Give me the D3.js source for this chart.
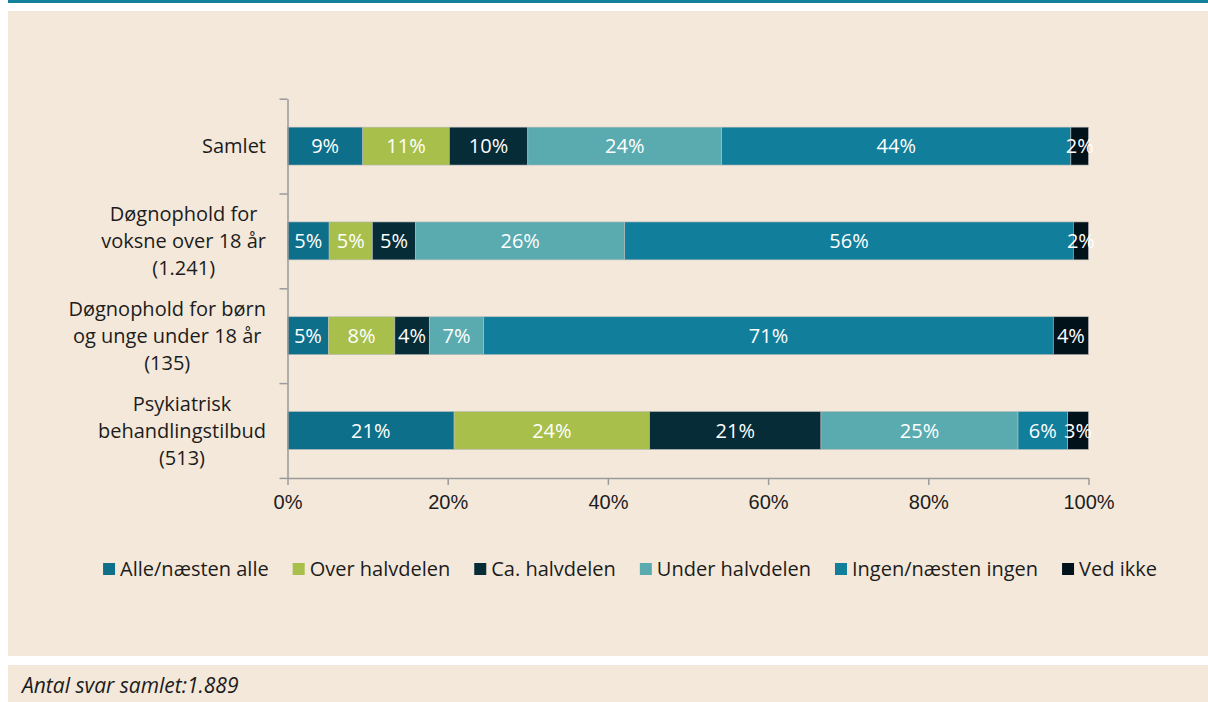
<!DOCTYPE html>
<html>
<head>
<meta charset="utf-8">
<script src="https://cdn.jsdelivr.net/npm/d3@7/dist/d3.min.js"></script>
<style>
  body { margin: 0; background: #fff; }
  svg { display: block; font-family: "Open Sans", "Noto Sans", sans-serif; }
</style>
</head>
<body>
<svg id="chart" width="1208" height="702"></svg>
<script>
// kategorier (linjer i hver etiket)
const CATEGORIES = [
  ["Samlet"],
  ["Døgnophold for", "voksne over 18 år", "(1.241)"],
  ["Døgnophold for børn", "og unge under 18 år", "(135)"],
  ["Psykiatrisk", "behandlingstilbud", "(513)"],
];

const SERIES = ["Alle/næsten alle", "Over halvdelen", "Ca. halvdelen", "Under halvdelen", "Ingen/næsten ingen", "Ved ikke"];
const SERIES_COLORS = ["#0e6f8a", "#a8bf4c", "#062c38", "#5aabb0", "#117e9b", "#02121a"];

// procent pr. serie, i samme rækkefølge som CATEGORIES
const alleNaestenAlle = [9.4, 5.2, 5.1, 20.8];
const overHalvdelen = [10.8, 5.4, 8.3, 24.4];
const caHalvdelen = [9.8, 5.4, 4.3, 21.4];
const underHalvdelen = [24.2, 26.1, 6.8, 24.6];
const ingenNaestenIngen = [43.6, 56.0, 71.1, 6.2];
const vedIkke = [2.2, 1.9, 4.4, 2.6];

const X_TICKS = [0, 20, 40, 60, 80, 100];
const FOOTNOTE = "Antal svar samlet:1.889";

const seriesValues = [alleNaestenAlle, overHalvdelen, caHalvdelen, underHalvdelen, ingenNaestenIngen, vedIkke];
const table = CATEGORIES.map((c, i) => {
  const row = { idx: i };
  SERIES.forEach((s, k) => (row[s] = seriesValues[k][i]));
  return row;
});

const svg = d3.select("#chart");
const AXIS = "#9a9a9a";
const TEXT = "#1c1c1c";
const FS = 20;

// baggrund
svg.append("rect").attr("x", 8).attr("y", 0).attr("width", 1200).attr("height", 3).attr("fill", "#13809c");
svg.append("rect").attr("x", 8).attr("y", 11).attr("width", 1200).attr("height", 645).attr("fill", "#f4e8da");
svg.append("rect").attr("x", 8).attr("y", 665).attr("width", 1200).attr("height", 37).attr("fill", "#f4e8da");

const x = d3.scaleLinear().domain([0, 100]).range([287.5, 1088.5]);
const y = d3.scaleBand().domain(d3.range(CATEGORIES.length)).range([98.7, 477.9]).paddingInner(0.6).paddingOuter(0.3);
const yEdges = d3.scaleLinear().domain([0, CATEGORIES.length]).range([98.7, 477.9]);

const stacked = d3.stack().keys(SERIES)(table);

const gBars = svg.append("g");
stacked.forEach((layer, k) => {
  const g = gBars.append("g");
  g.selectAll("rect")
    .data(layer)
    .join("rect")
    .attr("x", (d) => x(d[0]))
    .attr("y", (d) => y(d.data.idx))
    .attr("width", (d) => x(d[1]) - x(d[0]))
    .attr("height", y.bandwidth())
    .attr("fill", SERIES_COLORS[k])
    .attr("stroke", "#b9bcbc")
    .attr("stroke-width", 0.6);
  g.selectAll("text")
    .data(layer)
    .join("text")
    .attr("x", (d) => (x(d[0]) + x(d[1])) / 2)
    .attr("y", (d) => y(d.data.idx) + y.bandwidth() / 2)
    .attr("dy", "0.35em")
    .attr("text-anchor", "middle")
    .attr("fill", "#fff")
    .attr("font-size", FS)
    .text((d) => Math.round(d[1] - d[0]) + "%");
});

// y-akse med streger mellem kategorierne
svg.append("g")
  .attr("transform", `translate(${x(0)},0)`)
  .call(d3.axisLeft(yEdges).tickValues(d3.range(CATEGORIES.length + 1)).tickFormat("").tickSize(8).tickSizeOuter(0))
  .call((g) => g.selectAll("line,path").attr("stroke", AXIS).attr("stroke-width", 1.5));

// x-akse
svg.append("g")
  .attr("transform", `translate(0,${yEdges(CATEGORIES.length)})`)
  .call(d3.axisBottom(x).tickValues(X_TICKS).tickFormat((d) => d + "%").tickSize(7).tickSizeOuter(0).tickPadding(10))
  .call((g) => g.selectAll("line,path").attr("stroke", AXIS).attr("stroke-width", 1.5))
  .call((g) => g.selectAll("text").attr("fill", TEXT).attr("font-size", FS).attr("font-family", null));

// kategori-etiketter: centrerede linjer, højrekant ved 266
const LINE_H = 27;
CATEGORIES.forEach((lines, i) => {
  const g = svg.append("g");
  const cy = y(i) + y.bandwidth() / 2;
  const texts = lines.map((t, j) =>
    g.append("text")
      .attr("y", cy + (j - (lines.length - 1) / 2) * LINE_H)
      .attr("dy", "0.35em")
      .attr("text-anchor", "middle")
      .attr("fill", TEXT)
      .attr("font-size", FS)
      .text(t)
  );
  const maxW = d3.max(texts, (t) => t.node().getComputedTextLength());
  texts.forEach((t) => t.attr("x", 266 - maxW / 2));
});

// forklaring
const legend = svg.append("g");
let lx = 0;
SERIES.forEach((s, k) => {
  const item = legend.append("g").attr("transform", `translate(${lx},0)`);
  item.append("rect").attr("x", 0).attr("y", -6).attr("width", 12).attr("height", 12).attr("fill", SERIES_COLORS[k]);
  const t = item.append("text").attr("x", 17).attr("dy", "0.35em").attr("fill", TEXT).attr("font-size", FS).text(s);
  lx += 17 + t.node().getComputedTextLength() + 24;
});
lx -= 24;
legend.attr("transform", `translate(${630 - lx / 2},569)`);

// fodnote
svg.append("text")
  .attr("x", 22)
  .attr("y", 693)
  .attr("fill", TEXT)
  .attr("font-size", 21)
  .attr("font-style", "italic")
  .text(FOOTNOTE);
</script>
</body>
</html>
